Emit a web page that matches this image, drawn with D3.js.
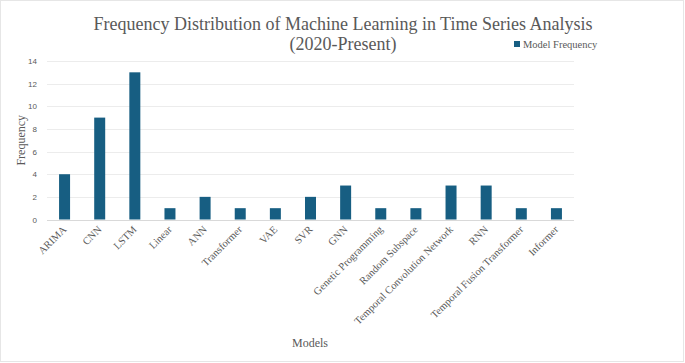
<!DOCTYPE html>
<html>
<head>
<meta charset="utf-8">
<script src="https://cdn.jsdelivr.net/npm/d3@7"></script>
<style>
  html, body { margin: 0; padding: 0; background: #fff; }
  #chart { width: 685px; height: 363px; }
  .serif { font-family: "Liberation Serif", "DejaVu Serif", serif; fill: #595959; }
  .y-axis text { font-family: "Liberation Sans", Arial, sans-serif; font-size: 8px; fill: #595959; }
</style>
</head>
<body>
<div id="chart"></div>
<script>
'use strict';

const models = ['ARIMA', 'CNN', 'LSTM', 'Linear', 'ANN', 'Transformer', 'VAE', 'SVR', 'GNN',
  'Genetic Programming', 'Random Subspace', 'Temporal Convolution Network', 'RNN',
  'Temporal Fusion Transformer', 'Informer'];
const frequency = [4, 9, 13, 1, 2, 1, 1, 2, 3, 1, 1, 3, 3, 1, 1];
const yTicks = [0, 2, 4, 6, 8, 10, 12, 14];

const W = 685, H = 363;
const MARGIN = { top: 61, right: 111, bottom: 143.5, left: 47 };
const w = W - MARGIN.left - MARGIN.right;
const h = H - MARGIN.top - MARGIN.bottom;
const BAR_COLOR = '#175e82';

const svg = d3.select('#chart').append('svg')
  .attr('width', W).attr('height', H);

svg.append('rect')
  .attr('x', 0.5).attr('y', 0.5)
  .attr('width', W - 2).attr('height', H - 2)
  .attr('fill', '#fff').attr('stroke', '#e6e6e6');

const x = d3.scaleBand().domain(models).range([0, w]).paddingInner(0.687).paddingOuter(0.3435);
const y = d3.scaleLinear().domain([0, 14]).range([h, 0]);

const g = svg.append('g').attr('transform', `translate(${MARGIN.left},${MARGIN.top})`);

// gridlines
g.append('g')
  .selectAll('line')
  .data(yTicks)
  .join('line')
  .attr('x1', 0).attr('x2', w)
  .attr('y1', d => Math.round(y(d)) + 0.5).attr('y2', d => Math.round(y(d)) + 0.5)
  .attr('stroke', d => d === 0 ? '#d9d9d9' : '#ececec')
  .attr('stroke-width', 1);

// y axis labels
g.append('g')
  .attr('class', 'y-axis')
  .attr('transform', 'translate(-10,0)')
  .call(d3.axisLeft(y).tickValues(yTicks).tickSize(0).tickPadding(0))
  .call(a => a.select('.domain').remove())
  .call(a => a.selectAll('text').attr('dy', '0.32em'));

// bars
g.selectAll('.bar')
  .data(frequency)
  .join('rect')
  .attr('class', 'bar')
  .attr('x', (d, i) => x(models[i]))
  .attr('width', x.bandwidth())
  .attr('y', d => y(d))
  .attr('height', d => y(0) - y(d))
  .attr('fill', BAR_COLOR);

// x labels, rotated -45
g.append('g')
  .selectAll('text')
  .data(models)
  .join('text')
  .attr('class', 'serif')
  .attr('font-size', 10.5)
  .attr('text-anchor', 'end')
  .attr('transform', d => `translate(${x(d) + x.bandwidth() / 2},${h + 8}) rotate(-45)`)
  .attr('dy', '0.35em')
  .text(d => d);

// title
svg.append('text')
  .attr('class', 'serif')
  .attr('x', 343).attr('y', 30)
  .attr('text-anchor', 'middle')
  .attr('font-size', 18)
  .text('Frequency Distribution of Machine Learning in Time Series Analysis');
svg.append('text')
  .attr('class', 'serif')
  .attr('x', 343).attr('y', 50)
  .attr('text-anchor', 'middle')
  .attr('font-size', 18)
  .text('(2020-Present)');

// legend
const legend = svg.append('g').attr('transform', 'translate(514,41)');
legend.append('rect').attr('x', 0).attr('y', 0).attr('width', 6).attr('height', 6).attr('fill', BAR_COLOR);
legend.append('text')
  .attr('class', 'serif')
  .attr('x', 9).attr('y', 6.5)
  .attr('font-size', 10.5)
  .text('Model Frequency');

// axis titles
svg.append('text')
  .attr('class', 'serif')
  .attr('transform', `translate(25,${MARGIN.top + h / 2}) rotate(-90)`)
  .attr('text-anchor', 'middle')
  .attr('font-size', 12)
  .text('Frequency');
svg.append('text')
  .attr('class', 'serif')
  .attr('x', 310).attr('y', 347)
  .attr('text-anchor', 'middle')
  .attr('font-size', 12)
  .text('Models');
</script>
</body>
</html>
